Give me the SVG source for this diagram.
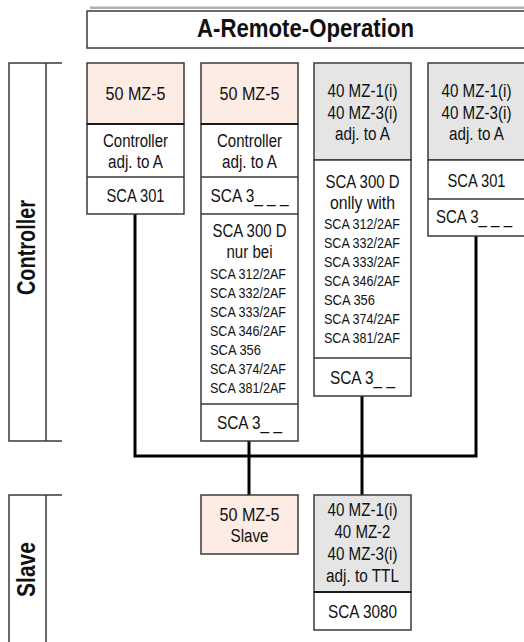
<svg xmlns="http://www.w3.org/2000/svg" width="524" height="642" viewBox="0 0 524 642">
<style>
text{font-family:"Liberation Sans Narrow","Liberation Sans",Arial,sans-serif;fill:#111;}
.t{font-size:18px;text-anchor:middle;}
.s{font-size:15px;}
.b{font-weight:bold;font-size:25px;text-anchor:middle;}
.box{fill:#fff;stroke:#3a3a3a;stroke-width:1.5;}
.pink{fill:#fdece4;stroke:#3a3a3a;stroke-width:1.5;}
.gray{fill:#e5e5e5;stroke:#3a3a3a;stroke-width:1.5;}
.sep{stroke:#1a1a1a;stroke-width:2;}
.sep1{stroke:#3a3a3a;stroke-width:1.5;}
.lbl{fill:none;stroke:#3a3a3a;stroke-width:1.5;}
.wire{fill:none;stroke:#000;stroke-width:3;}
</style>

<g id="title">
<rect x="90" y="6.5" width="440" height="2.5" fill="#b0b0b0"/>
<rect class="box" x="87" y="11" width="443" height="37"/>
<text class="b" x="305.5" y="37" textLength="217" lengthAdjust="spacingAndGlyphs">A-Remote-Operation</text>
</g>

<g id="label-controller">
<path class="lbl" d="M62,63 H9 V441 H62 M46,63 V441"/>
<text class="b" transform="translate(35,247.5) rotate(-90)" textLength="95" lengthAdjust="spacingAndGlyphs">Controller</text>
</g>

<g id="label-slave">
<path class="lbl" d="M62,495 H9 V650 M46,495 V650"/>
<text class="b" transform="translate(35,569.5) rotate(-90)" textLength="55" lengthAdjust="spacingAndGlyphs">Slave</text>
</g>

<g id="connectors">
<path class="wire" d="M135,214 V456 H476 V236"/>
<path class="wire" d="M249,441 V495"/>
<path class="wire" d="M362,396 V495"/>
</g>

<g id="col1">
<rect class="pink" x="87" y="63" width="97" height="61"/>
<rect class="box" x="87" y="124" width="97" height="90"/>
<line class="sep" x1="87" y1="124" x2="184" y2="124"/>
<line class="sep1" x1="87" y1="177" x2="184" y2="177"/>
<text class="t" x="135.5" y="100" textLength="60" lengthAdjust="spacingAndGlyphs">50 MZ-5</text>
<text class="t" x="135.5" y="146.5" textLength="65" lengthAdjust="spacingAndGlyphs">Controller</text>
<text class="t" x="135.5" y="167.5" textLength="55" lengthAdjust="spacingAndGlyphs">adj. to A</text>
<text class="t" x="135.5" y="202" textLength="58" lengthAdjust="spacingAndGlyphs">SCA 301</text>
</g>

<g id="col2">
<rect class="pink" x="201" y="63" width="97" height="61"/>
<rect class="box" x="201" y="124" width="97" height="317"/>
<line class="sep" x1="201" y1="124" x2="298" y2="124"/>
<line class="sep1" x1="201" y1="177" x2="298" y2="177"/>
<line class="sep1" x1="201" y1="214" x2="298" y2="214"/>
<line class="sep1" x1="201" y1="404" x2="298" y2="404"/>
<text class="t" x="249.5" y="100" textLength="60" lengthAdjust="spacingAndGlyphs">50 MZ-5</text>
<text class="t" x="249.5" y="146.5" textLength="65" lengthAdjust="spacingAndGlyphs">Controller</text>
<text class="t" x="249.5" y="167.5" textLength="55" lengthAdjust="spacingAndGlyphs">adj. to A</text>
<text class="t" x="249.5" y="202" textLength="78" lengthAdjust="spacingAndGlyphs">SCA 3_ _ _</text>
<text class="t" x="249.5" y="237" textLength="74" lengthAdjust="spacingAndGlyphs">SCA 300 D</text>
<text class="t" x="249.5" y="258" textLength="46" lengthAdjust="spacingAndGlyphs">nur bei</text>
<text class="s" x="210" y="279" textLength="76" lengthAdjust="spacingAndGlyphs">SCA 312/2AF</text>
<text class="s" x="210" y="298" textLength="76" lengthAdjust="spacingAndGlyphs">SCA 332/2AF</text>
<text class="s" x="210" y="317" textLength="76" lengthAdjust="spacingAndGlyphs">SCA 333/2AF</text>
<text class="s" x="210" y="336" textLength="76" lengthAdjust="spacingAndGlyphs">SCA 346/2AF</text>
<text class="s" x="210" y="355" textLength="51" lengthAdjust="spacingAndGlyphs">SCA 356</text>
<text class="s" x="210" y="374" textLength="76" lengthAdjust="spacingAndGlyphs">SCA 374/2AF</text>
<text class="s" x="210" y="393" textLength="76" lengthAdjust="spacingAndGlyphs">SCA 381/2AF</text>
<text class="t" x="249.5" y="429" textLength="65" lengthAdjust="spacingAndGlyphs">SCA 3_ _</text>
</g>

<g id="col3">
<rect class="gray" x="314" y="63" width="97" height="97"/>
<rect class="box" x="314" y="160" width="97" height="236"/>
<line class="sep1" x1="314" y1="358" x2="411" y2="358"/>
<text class="t" x="362.5" y="97" textLength="70" lengthAdjust="spacingAndGlyphs">40 MZ-1(i)</text>
<text class="t" x="362.5" y="118.5" textLength="70" lengthAdjust="spacingAndGlyphs">40 MZ-3(i)</text>
<text class="t" x="362.5" y="140" textLength="55" lengthAdjust="spacingAndGlyphs">adj. to A</text>
<text class="t" x="362.5" y="188" textLength="74" lengthAdjust="spacingAndGlyphs">SCA 300 D</text>
<text class="t" x="362.5" y="209" textLength="65" lengthAdjust="spacingAndGlyphs">onlly with</text>
<text class="s" x="324" y="229" textLength="76" lengthAdjust="spacingAndGlyphs">SCA 312/2AF</text>
<text class="s" x="324" y="248" textLength="76" lengthAdjust="spacingAndGlyphs">SCA 332/2AF</text>
<text class="s" x="324" y="267" textLength="76" lengthAdjust="spacingAndGlyphs">SCA 333/2AF</text>
<text class="s" x="324" y="286" textLength="76" lengthAdjust="spacingAndGlyphs">SCA 346/2AF</text>
<text class="s" x="324" y="305" textLength="51" lengthAdjust="spacingAndGlyphs">SCA 356</text>
<text class="s" x="324" y="324" textLength="76" lengthAdjust="spacingAndGlyphs">SCA 374/2AF</text>
<text class="s" x="324" y="343" textLength="76" lengthAdjust="spacingAndGlyphs">SCA 381/2AF</text>
<text class="t" x="362.5" y="383.5" textLength="65" lengthAdjust="spacingAndGlyphs">SCA 3_ _</text>
</g>

<g id="col4">
<rect class="gray" x="428" y="63" width="98" height="97"/>
<rect class="box" x="428" y="160" width="98" height="76"/>
<line class="sep1" x1="428" y1="199" x2="526" y2="199"/>
<text class="t" x="476.5" y="97" textLength="70" lengthAdjust="spacingAndGlyphs">40 MZ-1(i)</text>
<text class="t" x="476.5" y="118.5" textLength="70" lengthAdjust="spacingAndGlyphs">40 MZ-3(i)</text>
<text class="t" x="476.5" y="140" textLength="55" lengthAdjust="spacingAndGlyphs">adj. to A</text>
<text class="t" x="476.5" y="187" textLength="58" lengthAdjust="spacingAndGlyphs">SCA 301</text>
<text class="t" x="474" y="223" textLength="76" lengthAdjust="spacingAndGlyphs">SCA 3_ _ _</text>
</g>

<g id="slave1">
<rect class="pink" x="201" y="495" width="97" height="59"/>
<text class="t" x="249.5" y="520.5" textLength="60" lengthAdjust="spacingAndGlyphs">50 MZ-5</text>
<text class="t" x="249.5" y="541.5" textLength="38" lengthAdjust="spacingAndGlyphs">Slave</text>
</g>

<g id="slave2">
<rect class="gray" x="314" y="495" width="97" height="97"/>
<rect class="box" x="314" y="592" width="97" height="38"/>
<line class="sep" x1="314" y1="592" x2="411" y2="592"/>
<text class="t" x="362.5" y="516" textLength="70" lengthAdjust="spacingAndGlyphs">40 MZ-1(i)</text>
<text class="t" x="362.5" y="538" textLength="56" lengthAdjust="spacingAndGlyphs">40 MZ-2</text>
<text class="t" x="362.5" y="560" textLength="70" lengthAdjust="spacingAndGlyphs">40 MZ-3(i)</text>
<text class="t" x="362.5" y="582" textLength="73" lengthAdjust="spacingAndGlyphs">adj. to TTL</text>
<text class="t" x="362.5" y="617.5" textLength="69" lengthAdjust="spacingAndGlyphs">SCA 3080</text>
</g>
</svg>
